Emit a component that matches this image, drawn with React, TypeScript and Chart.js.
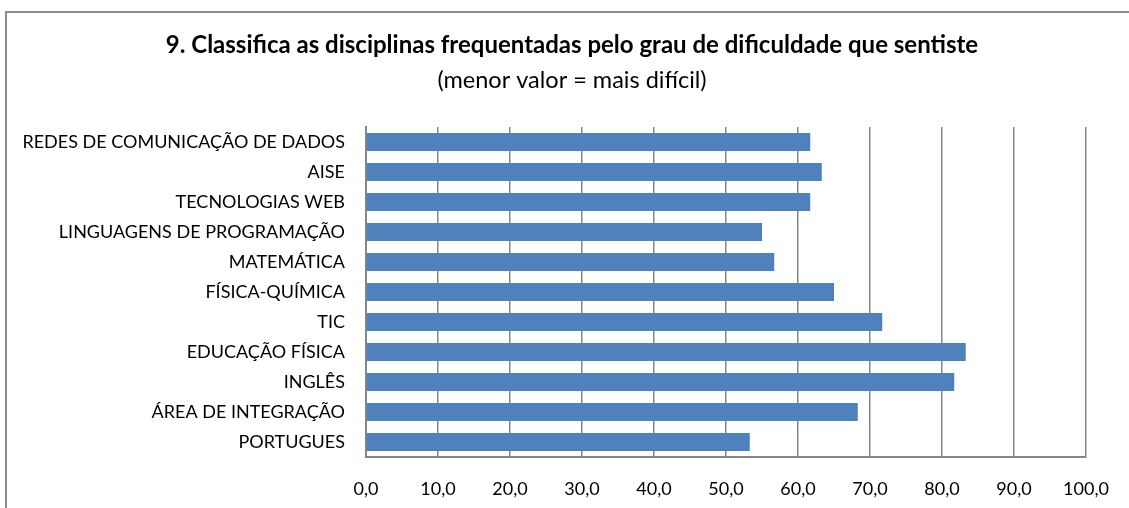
import React, { useEffect, useRef } from "react";
import { Chart, registerables } from "chart.js";

Chart.register(...registerables);

const titleText = "9. Classifica as disciplinas frequentadas pelo grau de dificuldade que sentiste";
const subtitleText = "(menor valor = mais difícil)";

const categories = [
  "REDES DE COMUNICAÇÃO DE DADOS",
  "AISE",
  "TECNOLOGIAS WEB",
  "LINGUAGENS DE PROGRAMAÇÃO",
  "MATEMÁTICA",
  "FÍSICA-QUÍMICA",
  "TIC",
  "EDUCAÇÃO FÍSICA",
  "INGLÊS",
  "ÁREA DE INTEGRAÇÃO",
  "PORTUGUES",
];

const values = [61.7, 63.3, 61.7, 55.0, 56.7, 65.0, 71.7, 83.3, 81.7, 68.3, 53.3];

const xTickLabels = ["0,0", "10,0", "20,0", "30,0", "40,0", "50,0", "60,0", "70,0", "80,0", "90,0", "100,0"];

const FONT = "Lato, 'Open Sans', sans-serif";
const CANVAS_W = 1130;
const CANVAS_H = 506;

const titlePlugin = {
  id: "customTitle",
  afterDraw(chart: any) {
    const ctx = chart.ctx;
    ctx.save();
    ctx.fillStyle = "#000";
    ctx.textAlign = "center";
    ctx.textBaseline = "alphabetic";
    ctx.font = `bold 24px ${FONT}`;
    ctx.fillText(titleText, chart.width / 2, 40);
    ctx.font = `23.5px ${FONT}`;
    ctx.fillText(subtitleText, chart.width / 2, 75);
    ctx.restore();
  },
};

export default function App() {
  const ref = useRef<HTMLCanvasElement | null>(null);

  useEffect(() => {
    if (!ref.current) return;
    const chart = new Chart(ref.current, {
      type: "bar",
      data: {
        labels: categories,
        datasets: [
          {
            data: values,
            backgroundColor: "#4F81BD",
            borderColor: "#B9CDE5",
            borderWidth: 0,
            categoryPercentage: 0.6,
            barPercentage: 1,
          },
        ],
      },
      options: {
        indexAxis: "y",
        responsive: false,
        animation: false,
        layout: { padding: { top: 114, right: 51, bottom: 12, left: 0 } },
        plugins: {
          legend: { display: false },
          title: { display: false },
          tooltip: { enabled: false },
        },
        scales: {
          x: {
            min: 0,
            max: 100,
            ticks: {
              stepSize: 10,
              padding: 21,
              color: "#000",
              font: { family: FONT, size: 18 },
              callback: (_v: any, i: number) => xTickLabels[i],
              maxRotation: 0,
            },
            grid: { color: "#868686", lineWidth: 1.5, drawTicks: false },
            border: { display: true, color: "#868686", width: 2 },
            afterFit: (s: any) => {
              s.height = 50;
            },
          },
          y: {
            ticks: {
              padding: 21,
              color: "#000",
              font: { family: FONT, size: 18 },
              autoSkip: false,
            },
            grid: { display: false, drawTicks: false },
            border: { display: true, color: "#868686", width: 2 },
            afterFit: (s: any) => {
              s.width = 359;
            },
          },
        },
      },
      plugins: [titlePlugin],
    });
    return () => chart.destroy();
  }, []);

  return (
    <>
      <style>{`html,body{margin:0;padding:0;overflow:hidden;background:#fff;}`}</style>
      <div
        style={{
          position: "absolute",
          left: 5,
          top: 11,
          width: CANVAS_W + 4,
          height: CANVAS_H + 4,
          border: "2px solid #8c8c8c",
          boxSizing: "border-box",
          background: "#fff",
        }}
      >
        <canvas ref={ref} width={CANVAS_W} height={CANVAS_H} style={{ display: "block" }} />
      </div>
    </>
  );
}
